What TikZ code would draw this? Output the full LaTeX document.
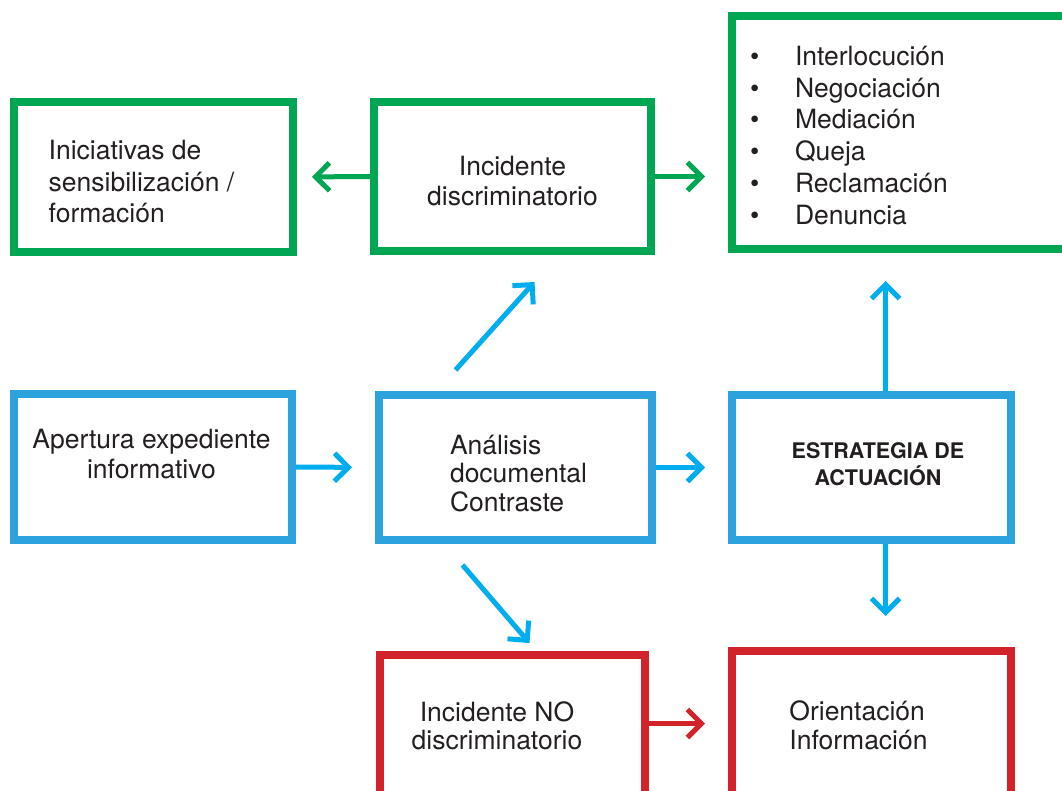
\documentclass[tikz,border=0pt]{standalone}
\usepackage{fontspec}
\setmainfont{TeX Gyre Heros}
\usepackage{tikz}
\usetikzlibrary{arrows.meta}
\usetikzlibrary{positioning}
\usetikzlibrary{calc}
\definecolor{boxgreen}{RGB}{0,166,81}
\definecolor{boxblue}{RGB}{44,163,220}
\definecolor{arrowblue}{RGB}{0,174,239}
\definecolor{boxred}{RGB}{210,35,42}
\definecolor{inkgray}{RGB}{35,31,32}
\tikzset{
    box/.style={draw, rectangle, line width=8pt, inner sep=0pt, text=inkgray,
        font=\fontsize{26.5}{30}\selectfont},
    greenbox/.style={box, draw=boxgreen},
    bluebox/.style={box, draw=boxblue},
    redbox/.style={box, draw=boxred},
    link/.style={line width=5pt, line join=miter,
        -{Straight Barb[length=14pt,width=28pt]}},
    greenarrow/.style={link, draw=boxgreen},
    bluearrow/.style={link, draw=arrowblue},
    redarrow/.style={link, draw=boxred},
}
% text block nudged by (#1,#2) inside its box
\newcommand{\boxtext}[4]{\hspace*{#1}\raisebox{#2}[\height][\depth]{%
    \begin{tabular}{@{}#3@{}}#4\end{tabular}}\hspace*{-#1}}
\newcommand{\bul}{\makebox[45pt][l]{\textbullet}}

\begin{document}
\begin{tikzpicture}[x=1pt, y=-1pt]
    \useasboundingbox (0,0) rectangle (1062,790);
    \clip (0,0) rectangle (1062,790);
    % top row
    \node[greenbox, minimum width=279pt, minimum height=150pt,
        font=\fontsize{26.5}{31.5}\selectfont]
        (sensib) at (153.5,177) {\boxtext{-12pt}{-8pt}{l}{Iniciativas de\\sensibilización /\\formación}};
    \node[greenbox, minimum width=277pt, minimum height=149pt]
        (incid) at (512.5,176.5) {\boxtext{0pt}{-7.8pt}{c}{Incidente\\discriminatorio}};
    \node[greenbox, minimum width=368pt, minimum height=233pt, inner xsep=18pt,
        text width=332pt, align=left, font=\fontsize{26.5}{31.8}\selectfont]
        (medidas) at (916,132.5) {\boxtext{0pt}{-5.9pt}{l}{\bul Interlocución\\\bul Negociación\\
        \bul Mediación\\\bul Queja\\\bul Reclamación\\\bul Denuncia}};
    % middle row
    \node[bluebox, minimum width=278pt, minimum height=146pt]
        (apertura) at (153,467) {\boxtext{-1.5pt}{9.7pt}{c}{Apertura expediente\\informativo}};
    \node[bluebox, minimum width=273pt, minimum height=145pt,
        font=\fontsize{26.5}{28.5}\selectfont]
        (analisis) at (515.5,467.5) {\boxtext{3pt}{-9.3pt}{l}{Análisis\\documental\\Contraste}};
    \node[bluebox, minimum width=279pt, minimum height=145pt,
        font=\fontsize{21.5}{24}\bfseries]
        (estrategia) at (871.5,467.5) {\boxtext{6.5pt}{0.6pt}{c}{ESTRATEGIA DE\\ACTUACIÓN}};
    % bottom row
    \node[redbox, minimum width=265pt, minimum height=145pt,
        font=\fontsize{26.5}{28}\selectfont]
        (noincid) at (512.5,727.5) {\boxtext{-15.5pt}{-1.8pt}{c}{Incidente NO\\discriminatorio}};
    \node[redbox, minimum width=279pt, minimum height=145pt,
        font=\fontsize{26.5}{29}\selectfont]
        (orient) at (871.5,723.5) {\boxtext{-13pt}{-5.3pt}{l}{Orientación\\Información}};
    % arrows
    \draw[greenarrow, shorten >=15pt] (incid.west) -- (sensib.east);
    \draw[greenarrow, shorten >=23pt] (incid.east) -- (medidas.west |- incid.east);
    \draw[bluearrow, shorten >=23pt] (apertura.east) -- (analisis.west);
    \draw[bluearrow, shorten >=23pt] (analisis.east) -- (estrategia.west);
    \draw[redarrow, shorten >=23pt] (noincid.east |- orient.center) -- (orient.west);
    \draw[bluearrow] ([xshift=-60pt,yshift=21pt]analisis.north) -- ([xshift=22pt,yshift=-27pt]incid.south);
    \draw[bluearrow] ([xshift=-53pt,yshift=-21pt]analisis.south) -- ([xshift=17pt,yshift=8pt]noincid.north);
    \draw[bluearrow, shorten >=28pt] ($(estrategia.north)+(14,0)$) -- ($(estrategia.north |- medidas.south)+(14,0)$);
    \draw[bluearrow, shorten >=31pt] ($(estrategia.south)+(14,0)$) -- ($(orient.north)+(14,0)$);
\end{tikzpicture}
\end{document}
